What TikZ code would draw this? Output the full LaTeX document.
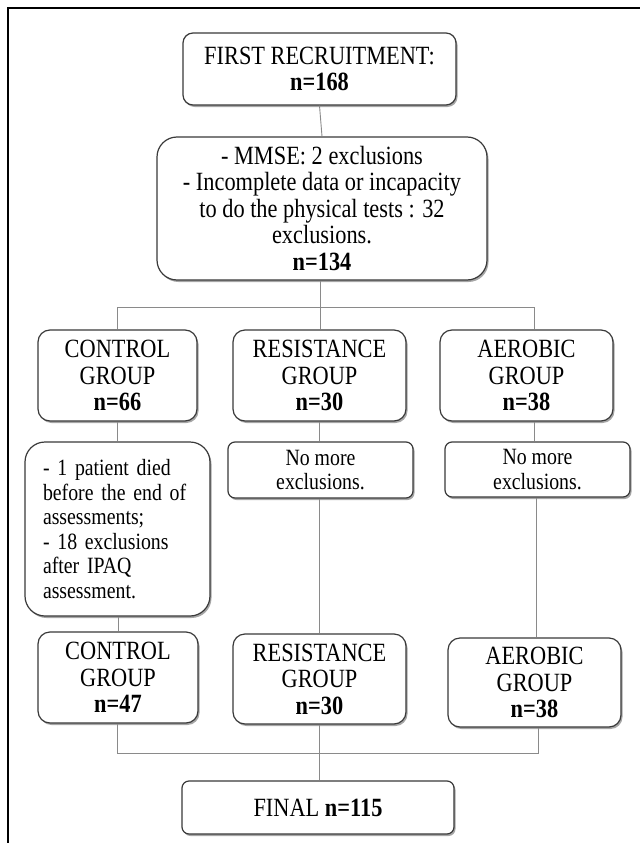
\documentclass[tikz,border=0pt]{standalone}
\usepackage{fontspec}
\setmainfont{Liberation Serif}[FakeStretch=0.85]
\usetikzlibrary{shadows}
\definecolor{boxline}{HTML}{3A3A3A}
\definecolor{conn}{HTML}{8A8A8A}
\tikzset{
  flowbox/.style={draw=boxline, line width=1.2pt, fill=white, align=center,
    inner sep=2pt, font=\fontsize{26.3}{26.5}\selectfont,
    drop shadow={shadow xshift=1.5pt, shadow yshift=-2pt, fill=black, opacity=0.35}},
  smallbox/.style={flowbox, font=\fontsize{23.3}{24.5}\selectfont},
  link/.style={draw=conn, line width=0.9pt},
}
\begin{document}
\begin{tikzpicture}[x=1pt, y=-1pt]
\useasboundingbox (0,0) rectangle (640,843);
\fill[white] (0,0) rectangle (640,843);
% outer frame (top and left only)
\draw[line width=2pt, black] (8,843) -- (8,8) -- (640,8);

% nodes
\node[flowbox, rounded corners=10pt, minimum width=273pt, minimum height=72pt]
  (b1) at (319.5,69) {FIRST RECRUITMENT:\\\textbf{n=168}};
\node[flowbox, rounded corners=20pt, minimum width=330pt, minimum height=143pt]
  (b2) at (322,208.5) {- MMSE: 2 exclusions\\- Incomplete data or incapacity\\to do the physical tests : 32\\exclusions.\\\textbf{n=134}};

\node[flowbox, rounded corners=12pt, minimum width=159pt, minimum height=91pt]
  (g1) at (117.5,375.5) {CONTROL\\GROUP\\\textbf{n=66}};
\node[flowbox, rounded corners=12pt, minimum width=173pt, minimum height=91pt]
  (g2) at (319.5,375.5) {RESISTANCE\\GROUP\\\textbf{n=30}};
\node[flowbox, rounded corners=12pt, minimum width=173pt, minimum height=91pt]
  (g3) at (526.5,375.5) {AEROBIC\\GROUP\\\textbf{n=38}};

\node[smallbox, rounded corners=20pt, minimum width=185pt, minimum height=174pt,
  align=left, text width=149pt, inner xsep=18pt]
  (e1) at (117.5,529) {- 1 patient died\\before the end of\\assessments;\\- 18 exclusions\\after IPAQ\\assessment.};
\node[smallbox, rounded corners=7pt, minimum width=185pt, minimum height=56pt]
  (e2) at (320.5,470) {No more\\exclusions.};
\node[smallbox, rounded corners=7pt, minimum width=185pt, minimum height=55pt]
  (e3) at (537.5,469.5) {No more\\exclusions.};

\node[flowbox, rounded corners=12pt, minimum width=160pt, minimum height=91pt]
  (r1) at (118,677.5) {CONTROL\\GROUP\\\textbf{n=47}};
\node[flowbox, rounded corners=12pt, minimum width=173pt, minimum height=90pt]
  (r2) at (319.5,679) {RESISTANCE\\GROUP\\\textbf{n=30}};
\node[flowbox, rounded corners=12pt, minimum width=173pt, minimum height=89pt]
  (r3) at (534.5,682.5) {AEROBIC\\GROUP\\\textbf{n=38}};

\node[flowbox, rounded corners=7pt, minimum width=272pt, minimum height=53pt]
  (fin) at (318,807.5) {FINAL \textbf{n=115}};

% junction coordinates
\coordinate (sL) at (117.5,307);
\coordinate (sC) at (320,307);
\coordinate (sR) at (534,307);
\coordinate (mL) at (117.5,753);
\coordinate (mC) at (319.5,753);
\coordinate (mR) at (538,753);
\coordinate (a3) at (536,0);

% connectors
\draw[link] (b1.south) -- (b2.north);
\draw[link] (b2.south -| sC) -- (sC);
\draw[link] (sL |- g1.north) -- (sL) -- (sR) -- (sR |- g3.north);
\draw[link] (sC) -- (sC |- g2.north);
\draw[link] (g1.south) -- (e1.north -| g1.south);
\draw[link] (g2.south) -- (e2.north -| g2.south);
\draw[link] (sR |- g3.south) -- (sR |- e3.north);
\draw[link] (e1.south -| r1.north) -- (r1.north);
\draw[link] (e2.south -| r2.north) -- (r2.north);
\draw[link] (a3 |- e3.south) -- (a3 |- r3.north);
\draw[link] (mL |- r1.south) -- (mL) -- (mR) -- (mR |- r3.south);
\draw[link] (r2.south) -- (mC) -- (mC |- fin.north);
\end{tikzpicture}
\end{document}
